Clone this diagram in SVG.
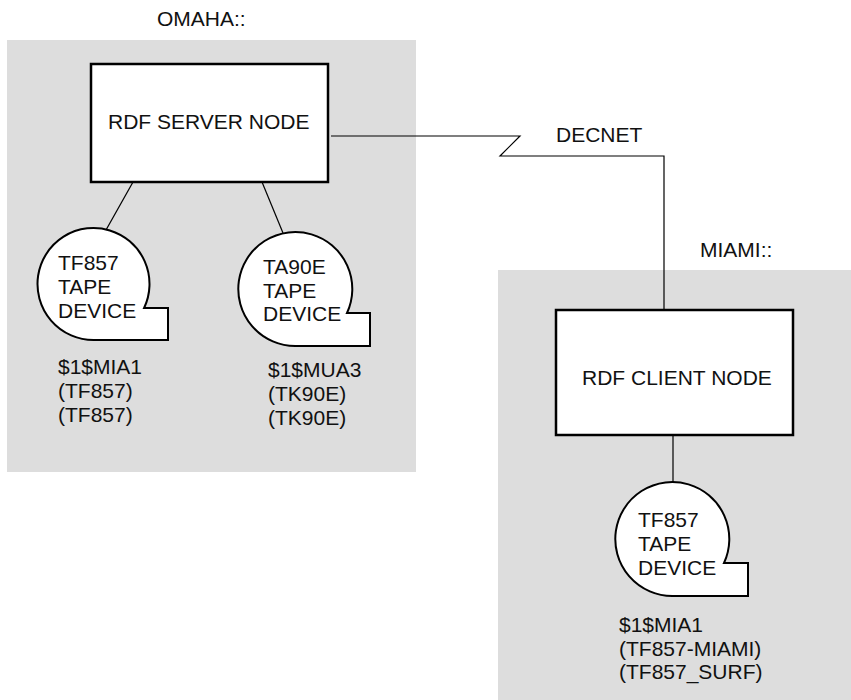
<svg xmlns="http://www.w3.org/2000/svg" width="851" height="700" viewBox="0 0 851 700">
<style>
.bg{fill:#dddddd;stroke:none}
.box{fill:#ffffff;stroke:#000000;stroke-width:2.5}
.tape{fill:#ffffff;stroke:#000000;stroke-width:2}
.wire{fill:none;stroke:#000000;stroke-width:1.2}
text{font-family:"Liberation Sans",Arial,sans-serif;font-size:21px;fill:#111111}
</style>
<rect class="bg" x="7" y="40" width="409" height="432"/>
<rect class="bg" x="498" y="270" width="353" height="430"/>
<text x="157" y="26">OMAHA::</text>
<text x="700" y="257">MIAMI::</text>
<g id="connectors">
<path class="wire" d="M331,136 H520 L500,156 H664 V310"/>
<text x="556" y="142">DECNET</text>
<line class="wire" x1="133" y1="182" x2="106" y2="230"/>
<line class="wire" x1="262" y1="182" x2="283" y2="233"/>
<line class="wire" x1="673" y1="435" x2="673" y2="482"/>
</g>
<g id="server">
<rect class="box" x="91" y="64" width="237" height="118"/>
<text x="108" y="129">RDF SERVER NODE</text>
</g>
<g id="client">
<rect class="box" x="556" y="310" width="237" height="125"/>
<text x="582" y="385">RDF CLIENT NODE</text>
</g>
<g id="tape1">
<path class="tape" d="M93.5,340 A56,56 0 1 1 144.1,308 L168,308 L168,340 Z"/>
<text x="58" y="270">TF857</text>
<text x="58" y="294">TAPE</text>
<text x="58" y="318">DEVICE</text>
<text x="58" y="374">$1$MIA1</text>
<text x="58" y="397.5">(TF857)</text>
<text x="58" y="421.5">(TF857)</text>
</g>
<g id="tape2">
<path class="tape" d="M295.5,346 A57,57 0 1 1 347,313 L370,313 L370,346 Z"/>
<text x="263" y="274">TA90E</text>
<text x="263" y="297.5">TAPE</text>
<text x="263" y="321">DEVICE</text>
<text x="268" y="377">$1$MUA3</text>
<text x="268" y="401">(TK90E)</text>
<text x="268" y="425">(TK90E)</text>
</g>
<g id="tape3">
<path class="tape" d="M672.5,596 A57,57 0 1 1 724,563 L748,563 L748,596 Z"/>
<text x="638" y="527">TF857</text>
<text x="638" y="551">TAPE</text>
<text x="638" y="575">DEVICE</text>
<text x="619" y="632">$1$MIA1</text>
<text x="619" y="655.5">(TF857-MIAMI)</text>
<text x="619" y="679">(TF857_SURF)</text>
</g>
</svg>
